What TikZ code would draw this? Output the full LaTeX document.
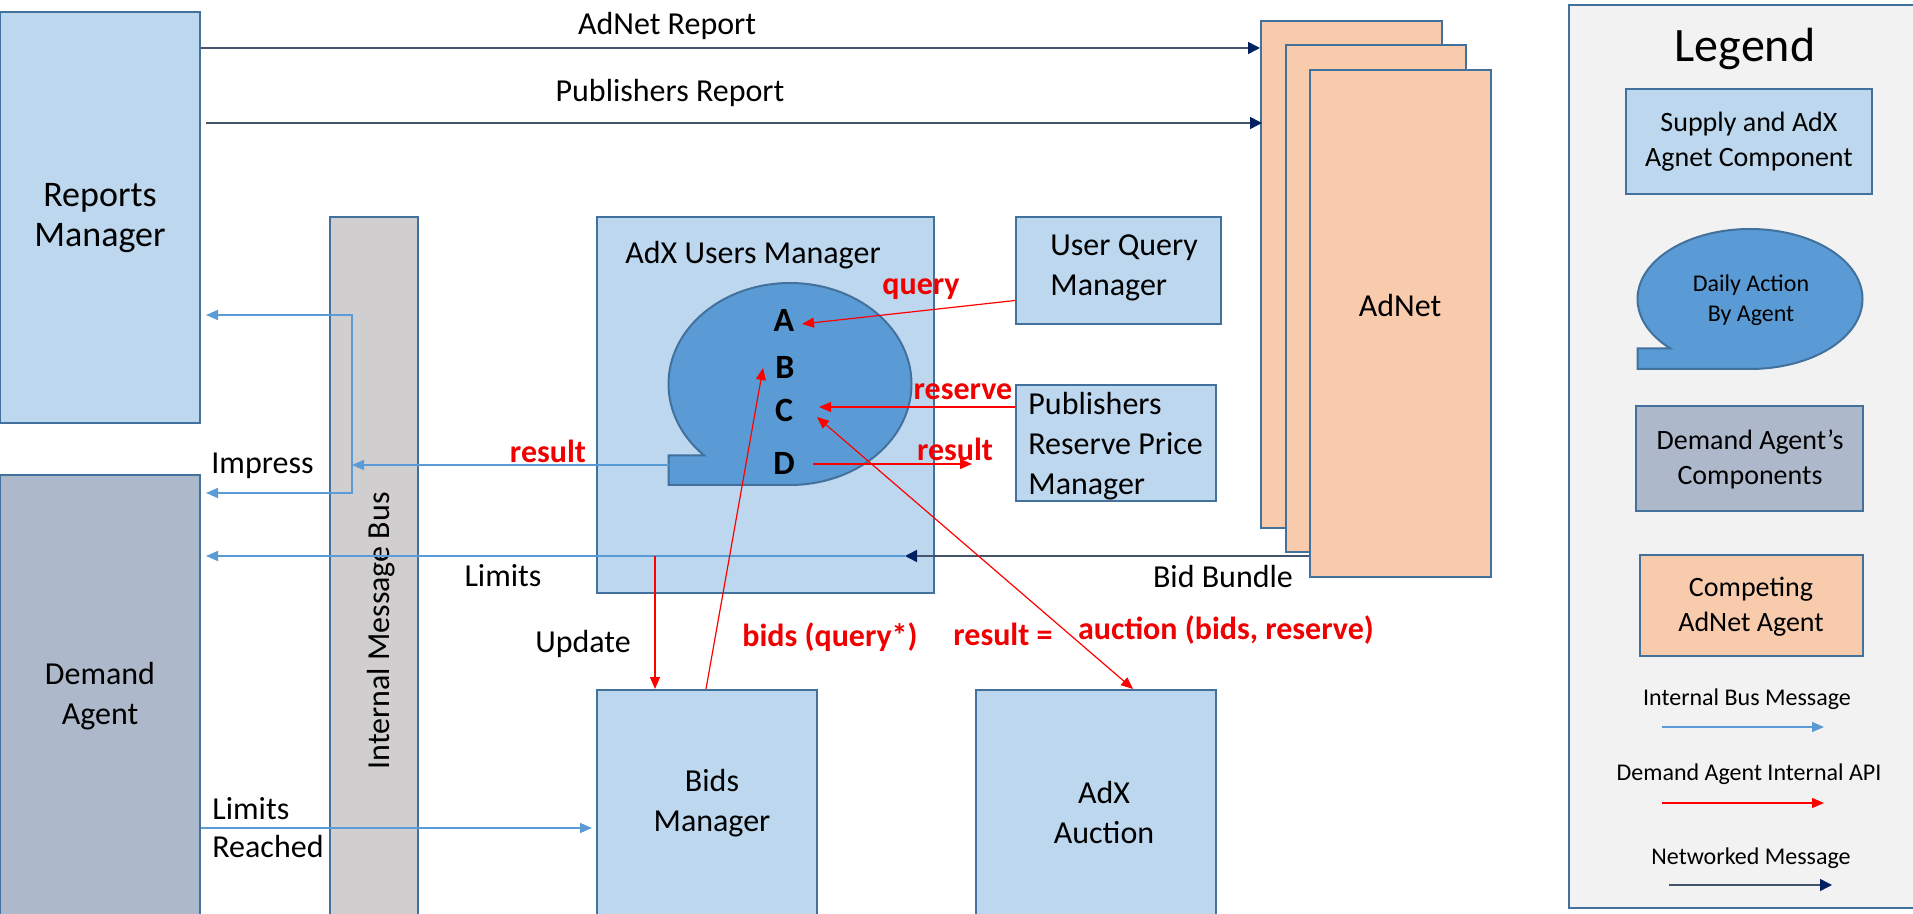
\documentclass[tikz,border=0pt]{standalone}
\usepackage{fontspec}
\setmainfont{Carlito}
\usetikzlibrary{arrows.meta,fit,calc}

\definecolor{boxblue}{HTML}{BDD7EE}
\definecolor{edgeblue}{HTML}{41719C}
\definecolor{demandgray}{HTML}{ADB9CA}
\definecolor{busgray}{HTML}{D0CECE}
\definecolor{adnetorange}{HTML}{F8CBAD}
\definecolor{bubbleblue}{HTML}{5B9BD5}
\definecolor{legendbg}{HTML}{F2F2F2}
\definecolor{busline}{HTML}{5B9BD5}
\definecolor{apired}{HTML}{FF0000}
\definecolor{redtext}{HTML}{F00000}
\definecolor{netline}{HTML}{44546A}
\definecolor{nettip}{HTML}{002060}

\tikzset{
  compbox/.style={draw=edgeblue, line width=1pt, fill=boxblue, inner sep=0pt},
  txt/.style={inner sep=0pt, text=black, font=\fontsize{16}{20}\selectfont},
  boxtxt/.style={txt, align=center},
  redlbl/.style={inner sep=0pt, text=redtext, font=\bfseries\fontsize{16}{20}\selectfont},
  letter/.style={inner sep=0pt, text=black, font=\bfseries\fontsize{17}{20}\selectfont},
  legtxt/.style={inner sep=0pt, text=black, align=center, font=\fontsize{12}{15}\selectfont},
  legboxtxt/.style={inner sep=0pt, text=black, align=center, font=\fontsize{14}{17.5}\selectfont},
  busarrow/.style={draw=busline, line width=0.75pt, >={Triangle[length=6pt,width=5pt]}},
  apiarrow/.style={draw=apired, line width=0.6pt, >={Triangle[length=6pt,width=5pt]}},
  netarrow/.style={draw=netline, line width=0.75pt, >={Triangle[length=6pt,width=6pt,color=nettip]}},
  pics/callout/.style 2 args={code={
    \filldraw[fill=bubbleblue, draw=edgeblue, line width=1pt, line join=miter]
      (225:#1 and #2) arc[start angle=225, end angle=-90, x radius=#1, y radius=#2]
      -- (-#1,-#2) -- (-#1,{-0.7071*#2}) -- cycle;
  }}
}

\begin{document}
\begin{tikzpicture}[x=0.5pt, y=-0.5pt]
\useasboundingbox (0,0) rectangle (1913,914);
\clip (0,0) rectangle (1913,914);
\fill[white] (0,0) rectangle (1913,914);

% ---- components ----
\node[compbox, fit={(0,12) (200,423)}] (rm) {};
\node[boxtxt, font=\fontsize{18}{20}\selectfont] (rmtxt) at (100,218) {Reports\\Manager};
\node[compbox, fill=demandgray, fit={(0,475) (200,917)}] (da) {};
\node[boxtxt] (datxt) at (100,696) {Demand\\Agent};
\node[compbox, fill=busgray, fit={(330,217) (418,930)}] (bus) {};
\node[txt, rotate=90] (bustxt) at (381,631) {Internal Message Bus};

\node[compbox, fit={(597,217) (934,593)}] (aum) {};
\node[txt, anchor=west] (aumtxt) at (625,255) {AdX Users Manager};
\pic at (790,384) {callout={60.75pt}{50.5pt}};
\node[letter] (nA) at (784,320) {A};
\node[letter] (nB) at (785,367) {B};
\node[letter] (nC) at (784,410) {C};
\node[letter] (nD) at (784,463) {D};

\node[compbox, fit={(1016,217) (1221,324)}] (uqm) {};
\node[txt, anchor=west, align=left] (uqmtxt) at (1050,268) {User Query\\Manager};
\node[compbox, fit={(1016,385) (1216,501)}] (prpm) {};
\node[txt, anchor=west, align=left] (prpmtxt) at (1028,446) {Publishers\\Reserve Price\\Manager};

\node[compbox, fill=adnetorange, fit={(1261,21) (1442,528)}] (adnet1) {};
\node[compbox, fill=adnetorange, fit={(1286,45) (1466,552)}] (adnet2) {};
\node[compbox, fill=adnetorange, fit={(1310,70) (1491,577)}] (adnet3) {};
\node[txt] (adnettxt) at (1400,306) {AdNet};

\node[compbox, fit={(597,690) (817,916)}] (bids) {};
\node[boxtxt] (bidstxt) at (712,803) {Bids\\Manager};
\node[compbox, fit={(976,690) (1216,936)}] (auction) {};
\node[boxtxt] (auctiontxt) at (1104,813) {AdX\\Auction};

% ---- legend ----
\node[compbox, fill=legendbg, fit={(1569,5) (1918,908)}] (legend) {};
\node[inner sep=0pt, font=\fontsize{24}{28}\selectfont] (legtitle) at (1745,49) {Legend};
\node[compbox, fit={(1626,89) (1872,194)}] (lgsupply) {};
\node[legboxtxt] (lgsupplytxt) at (1749,142) {Supply and AdX\\Agnet Component};
\pic at (1750,299) {callout={56.25pt}{35pt}};
\node[legtxt] (lgbubble) at (1751,300) {Daily Action\\By Agent};
\node[compbox, fill=demandgray, fit={(1636,406) (1863,511)}] (lgdemand) {};
\node[legboxtxt] (lgdemandtxt) at (1750,459) {Demand Agent’s\\Components};
\node[compbox, fill=adnetorange, fit={(1640,555) (1863,656)}] (lgadnet) {};
\node[legboxtxt] (lgadnettxt) at (1751,607) {Competing\\AdNet Agent};
\node[legtxt] (lgbus) at (1747,699) {Internal Bus Message};
\node[legtxt] (lgapi) at (1749,774) {Demand Agent Internal API};
\node[legtxt] (lgnet) at (1751,858) {Networked Message};
\coordinate (lgbusA) at (1662,727);  \coordinate (lgbusB) at (1824,727);
\coordinate (lgapiA) at (1662,803);  \coordinate (lgapiB) at (1824,803);
\coordinate (lgnetA) at (1669,885);  \coordinate (lgnetB) at (1832,885);
\draw[busarrow, ->] (lgbusA) -- (lgbusB);
\draw[apiarrow, ->] (lgapiA) -- (lgapiB);
\draw[netarrow, ->] (lgnetA) -- (lgnetB);

% ---- connector helper points ----
\coordinate (ar) at (0,48);
\coordinate (pr) at (0,123);
\coordinate (foot) at (669,465);
\coordinate (jn) at (352,465);
\coordinate (brtop) at (352,315);
\coordinate (brbot) at (352,493);
\coordinate (bb) at (905,556);
\coordinate (upd) at (655,556);
\coordinate (lr) at (0,828);
\coordinate (tA) at (802,324);
\coordinate (tB) at (763,368);
\coordinate (tC1) at (819,407);
\coordinate (tC2) at (817,417);
\coordinate (tD) at (813,464);
\coordinate (tDend) at (972,464);

% ---- networked messages ----
\draw[netarrow, ->] (ar -| rm.east) -- (ar -| adnet1.west);
\draw[netarrow, ->, shorten <=2.5pt, shorten >=-1pt] (pr -| rm.east) -- (pr -| adnet1.west);
\draw[netarrow, ->] (bb -| adnet3.west) -- (bb);

% ---- internal bus messages ----
\draw[busarrow, ->] (foot) -- (jn);
\draw[busarrow, <->, shorten <=2.5pt, shorten >=2.5pt]
  (brtop -| rm.east) -- (brtop) -- (brbot) -- (brbot -| da.east);
\draw[busarrow, ->, shorten >=2.5pt] (bb) -- (bb -| da.east);
\draw[busarrow, ->, shorten >=2pt] (lr -| da.east) -- (lr -| bids.west);

% ---- demand agent internal API ----
\draw[apiarrow, ->] ($(uqm.west)+(0,30)$) -- (tA);
\draw[apiarrow, ->] ($(prpm.west)+(0,-36)$) -- (tC1);
\draw[apiarrow, ->] (tD) -- (tDend);
\draw[apiarrow, ->] ($(bids.north west)+(110,0)$) -- (tB);
\draw[apiarrow, <->] (tC2) -- ($(auction.north west)+(158,0)$);
\draw[apiarrow, ->] (upd) -- (upd |- bids.north);

% ---- labels ----
\node[txt] (lblanr) at (667,26) {AdNet Report};
\node[txt] (lblpr) at (670,93) {Publishers Report};
\node[txt, anchor=west] (lblimp) at (211,466) {Impress};
\node[redlbl] (lblres1) at (548,451) {result};
\node[txt] (lbllim) at (503,576) {Limits};
\node[txt] (lblbb) at (1223,577) {Bid Bundle};
\node[txt] (lblupd) at (583,644) {Update};
\node[redlbl] (lblbids) at (830,637) {bids (query*)};
\node[redlbl] (lblreseq) at (1003,634) {result =};
\node[redlbl] (lblauct) at (1226,630) {auction (bids, reserve)};
\node[txt, anchor=west] (lbllr1) at (212,809) {Limits};
\node[txt, anchor=west] (lbllr2) at (212,847) {Reached};
\node[redlbl] (lblq) at (921,289) {query};
\node[redlbl] (lblrsv) at (963,392) {reserve};
\node[redlbl] (lblres2) at (955,449) {result};
\end{tikzpicture}
\end{document}
